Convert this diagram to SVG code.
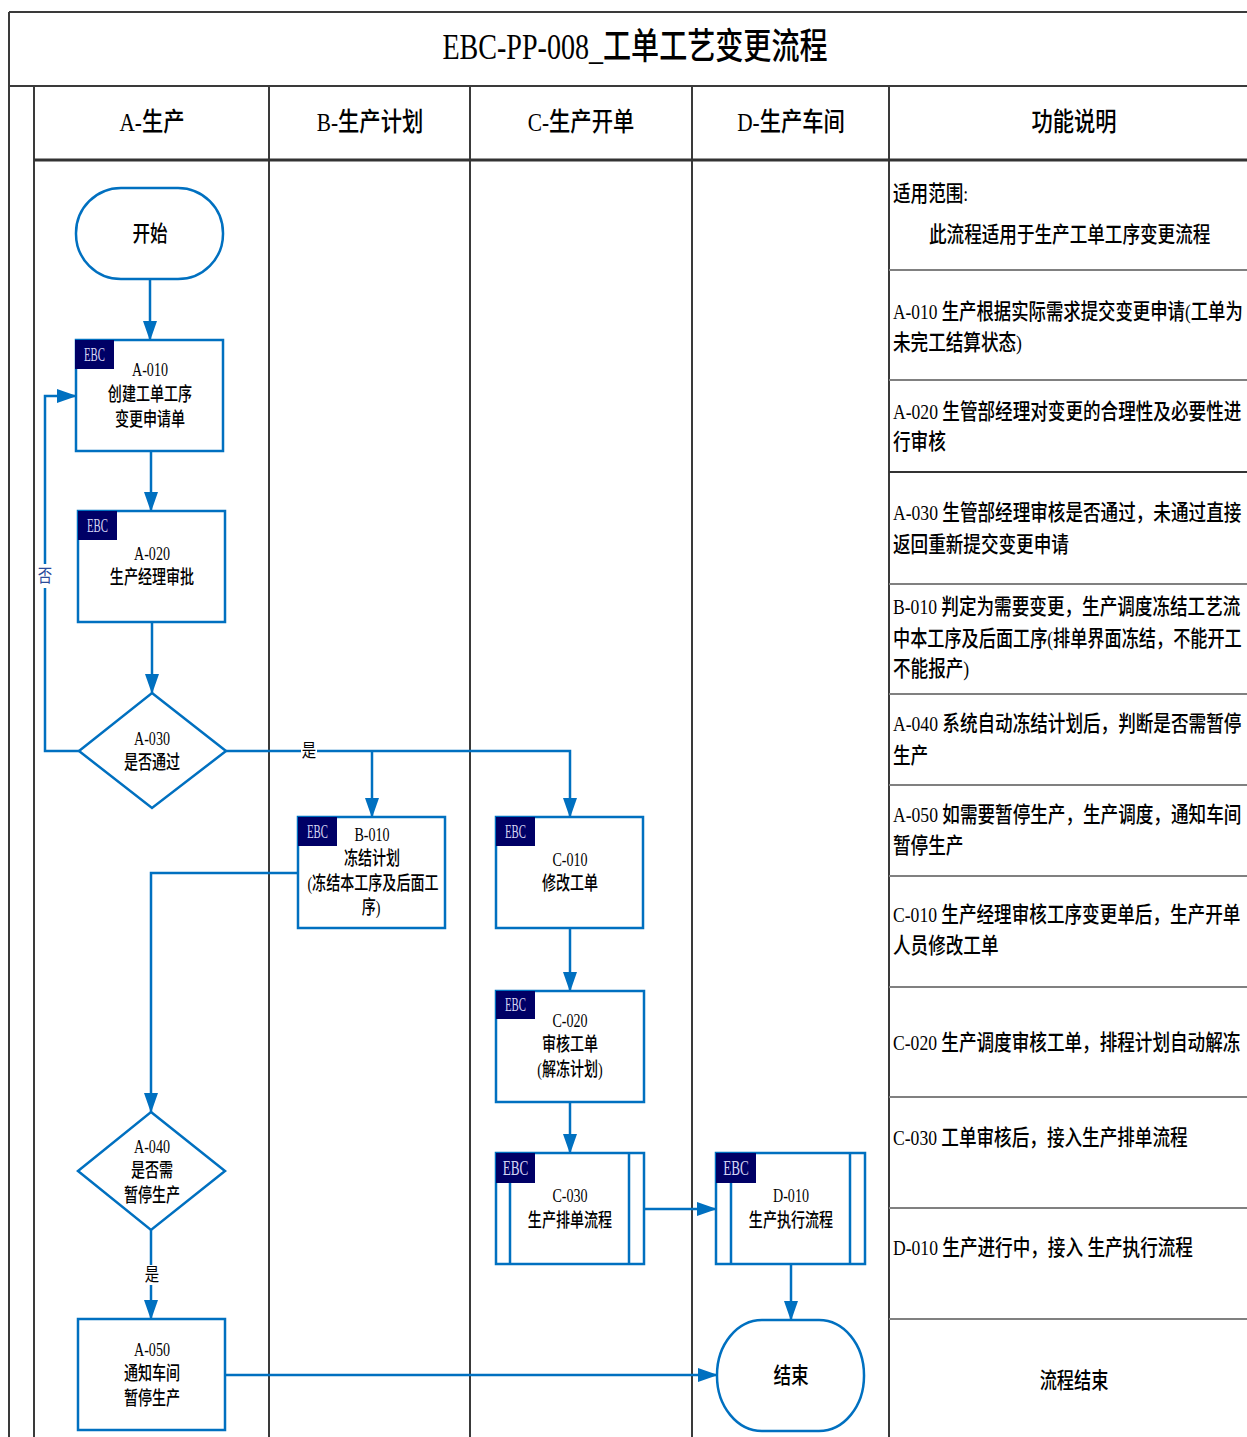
<svg xmlns="http://www.w3.org/2000/svg" width="1247" height="1437" viewBox="0 0 1247 1437">
<style>
.bg{fill:#fff}
.g{stroke:#3a3a3a;stroke-width:2;fill:none}
.r{stroke:#808080;stroke-width:2;fill:none}
.n{fill:#fff;stroke:#0070C0;stroke-width:2.5}
.tag{fill:#000066}
.tt{font-family:"Liberation Serif","Noto Sans CJK SC",serif;fill:#d4d4f4;text-anchor:middle;dominant-baseline:central}
.t{font-family:"Liberation Serif","Noto Sans CJK SC",sans-serif;fill:#000;text-anchor:middle;dominant-baseline:central;font-weight:500}
.d{font-family:"Liberation Serif","Noto Sans CJK SC",sans-serif;fill:#000;dominant-baseline:central;font-size:22px;font-weight:500}
.nt{font-size:19px}
.c{fill:none;stroke:#0070C0;stroke-width:2.5;marker-end:url(#arr)}
.cl{fill:none;stroke:#0070C0;stroke-width:2.5}
.lb{font-family:"Liberation Serif","Noto Sans CJK SC",sans-serif;font-size:18px;text-anchor:middle;dominant-baseline:central}
</style>
<defs>
<marker id="arr" markerUnits="userSpaceOnUse" markerWidth="20" markerHeight="14" refX="19" refY="7" orient="auto">
<path d="M0,0 L20,7 L0,14 Z" fill="#0070C0"/>
</marker>
</defs>
<rect class="bg" x="0" y="0" width="1247" height="1437"/>

<g id="grid">
<path class="g" d="M9,12 H1247 M9,12 V1437 M9,86 H1247 M34,86 V1437"/>
<path class="g" d="M269,86 V1437 M470,86 V1437 M692,86 V1437 M889,86 V1437"/>
<path d="M34,160 H1247" stroke="#333" stroke-width="3"/>
<path class="r" d="M889,270 H1247 M889,380 H1247 M889,584 H1247 M889,694 H1247 M889,785 H1247 M889,876 H1247 M889,987 H1247 M889,1097 H1247 M889,1208 H1247 M889,1319 H1247"/>
<path d="M889,472 H1247" stroke="#333" stroke-width="2"/>
</g>

<g id="title">
<text class="t" transform="translate(635,47) scale(0.78,1)" font-size="36">EBC-PP-008_工单工艺变更流程</text>
</g>

<g id="headers">
<text class="t" transform="translate(152,122) scale(0.82,1)" font-size="26">A-生产</text>
<text class="t" transform="translate(370,122) scale(0.82,1)" font-size="26">B-生产计划</text>
<text class="t" transform="translate(581,122) scale(0.82,1)" font-size="26">C-生产开单</text>
<text class="t" transform="translate(791,122) scale(0.82,1)" font-size="26">D-生产车间</text>
<text class="t" transform="translate(1074,122) scale(0.82,1)" font-size="26">功能说明</text>
</g>

<g id="connectors">
<path class="c" d="M150,279 V340"/>
<path class="c" d="M151,451 V511"/>
<path class="c" d="M152,622 V693"/>
<path class="c" d="M79,751 H45 V396 H76"/>
<path class="c" d="M226,751 H570 V817"/>
<path class="c" d="M372,751 V817"/>
<path class="c" d="M298,873 H151 V1112"/>
<path class="c" d="M570,928 V991"/>
<path class="c" d="M570,1102 V1153"/>
<path class="c" d="M644,1209 H716"/>
<path class="c" d="M791,1264 V1320"/>
<path class="c" d="M151,1230 V1319"/>
<path class="c" d="M225,1375 H717"/>
<rect x="37" y="564" width="16" height="24" fill="#fff"/>
<text class="lb" transform="translate(45,576) scale(0.8,1)" fill="#2a4a9a">否</text>
<rect x="301" y="741" width="16" height="20" fill="#fff"/>
<text class="lb" transform="translate(309,751) scale(0.8,1)" fill="#000">是</text>
<rect x="143" y="1265" width="16" height="20" fill="#fff"/>
<text class="lb" transform="translate(152,1275) scale(0.8,1)" fill="#000">是</text>
</g>

<g id="start">
<rect class="n" x="76" y="188" width="147" height="91" rx="45" ry="45"/>
<text class="t" transform="translate(150,233) scale(0.8,1)" font-size="22">开始</text>
</g>

<g id="A-010">
<rect class="n" x="76" y="340" width="147" height="111"/>
<rect class="tag" x="75" y="340" width="39" height="29"/>
<text class="tt" transform="translate(94.5,355) scale(0.6,1)" font-size="18">EBC</text>
<text class="t nt" transform="translate(150,370) scale(0.74,1)">A-010</text>
<text class="t nt" transform="translate(150,395) scale(0.74,1)">创建工单工序</text>
<text class="t nt" transform="translate(150,420) scale(0.74,1)">变更申请单</text>
</g>

<g id="A-020">
<rect class="n" x="78" y="511" width="147" height="111"/>
<rect class="tag" x="78" y="511" width="39" height="29"/>
<text class="tt" transform="translate(97.5,526) scale(0.6,1)" font-size="18">EBC</text>
<text class="t nt" transform="translate(152,554) scale(0.74,1)">A-020</text>
<text class="t nt" transform="translate(152,578) scale(0.74,1)">生产经理审批</text>
</g>

<g id="A-030">
<polygon class="n" points="152,693 226,751 152,808 79,751"/>
<text class="t nt" transform="translate(152,739) scale(0.74,1)">A-030</text>
<text class="t nt" transform="translate(152,763) scale(0.74,1)">是否通过</text>
</g>

<g id="B-010">
<rect class="n" x="298" y="817" width="147" height="111"/>
<rect class="tag" x="298" y="817" width="39" height="29"/>
<text class="tt" transform="translate(317.5,832) scale(0.6,1)" font-size="18">EBC</text>
<text class="t nt" transform="translate(372,835) scale(0.74,1)">B-010</text>
<text class="t nt" transform="translate(372,859) scale(0.74,1)">冻结计划</text>
<text class="t nt" transform="translate(373,884) scale(0.74,1)">(冻结本工序及后面工</text>
<text class="t nt" transform="translate(371,908) scale(0.74,1)">序)</text>
</g>

<g id="C-010">
<rect class="n" x="496" y="817" width="147" height="111"/>
<rect class="tag" x="496" y="817" width="39" height="29"/>
<text class="tt" transform="translate(515.5,832) scale(0.6,1)" font-size="18">EBC</text>
<text class="t nt" transform="translate(570,860) scale(0.74,1)">C-010</text>
<text class="t nt" transform="translate(570,884) scale(0.74,1)">修改工单</text>
</g>

<g id="C-020">
<rect class="n" x="496" y="991" width="148" height="111"/>
<rect class="tag" x="496" y="991" width="39" height="28"/>
<text class="tt" transform="translate(515.5,1005) scale(0.6,1)" font-size="18">EBC</text>
<text class="t nt" transform="translate(570,1021) scale(0.74,1)">C-020</text>
<text class="t nt" transform="translate(570,1045) scale(0.74,1)">审核工单</text>
<text class="t nt" transform="translate(570,1070) scale(0.74,1)">(解冻计划)</text>
</g>

<g id="C-030">
<rect class="n" x="496" y="1153" width="148" height="111"/>
<path class="cl" d="M510,1183 V1264 M629,1153 V1264"/>
<rect class="tag" x="496" y="1153" width="39" height="30"/>
<text class="tt" transform="translate(515.5,1168) scale(0.6,1)" font-size="22">EBC</text>
<text class="t nt" transform="translate(570,1196) scale(0.74,1)">C-030</text>
<text class="t nt" transform="translate(570,1221) scale(0.74,1)">生产排单流程</text>
</g>

<g id="D-010">
<rect class="n" x="716" y="1153" width="149" height="111"/>
<path class="cl" d="M731,1183 V1264 M850,1153 V1264"/>
<rect class="tag" x="716" y="1153" width="40" height="30"/>
<text class="tt" transform="translate(736,1168) scale(0.6,1)" font-size="22">EBC</text>
<text class="t nt" transform="translate(791,1196) scale(0.74,1)">D-010</text>
<text class="t nt" transform="translate(791,1221) scale(0.74,1)">生产执行流程</text>
</g>

<g id="A-040">
<polygon class="n" points="151,1112 225,1171 151,1230 78,1171"/>
<text class="t nt" transform="translate(152,1147) scale(0.74,1)">A-040</text>
<text class="t nt" transform="translate(152,1171) scale(0.74,1)">是否需</text>
<text class="t nt" transform="translate(152,1196) scale(0.74,1)">暂停生产</text>
</g>

<g id="A-050">
<rect class="n" x="78" y="1319" width="147" height="111"/>
<text class="t nt" transform="translate(152,1350) scale(0.74,1)">A-050</text>
<text class="t nt" transform="translate(152,1374) scale(0.74,1)">通知车间</text>
<text class="t nt" transform="translate(152,1399) scale(0.74,1)">暂停生产</text>
</g>

<g id="end">
<rect class="n" x="717" y="1320" width="147" height="111" rx="45" ry="55"/>
<text class="t" transform="translate(791,1375) scale(0.8,1)" font-size="22">结束</text>
</g>

<g id="descriptions">
<text class="d" transform="translate(893,193) scale(0.8,1)">适用范围:</text>
<text class="d" transform="translate(929,234) scale(0.8,1)">此流程适用于生产工单工序变更流程</text>
<text class="d" transform="translate(893,311) scale(0.79,1)">A-010 生产根据实际需求提交变更申请(工单为</text>
<text class="d" transform="translate(893,342) scale(0.8,1)">未完工结算状态)</text>
<text class="d" transform="translate(893,411) scale(0.8,1)">A-020 生管部经理对变更的合理性及必要性进</text>
<text class="d" transform="translate(893,441) scale(0.8,1)">行审核</text>
<text class="d" transform="translate(893,512) scale(0.8,1)">A-030 生管部经理审核是否通过，未通过直接</text>
<text class="d" transform="translate(893,544) scale(0.8,1)">返回重新提交变更申请</text>
<text class="d" transform="translate(893,606) scale(0.8,1)">B-010 判定为需要变更，生产调度冻结工艺流</text>
<text class="d" transform="translate(893,638) scale(0.78,1)">中本工序及后面工序(排单界面冻结，不能开工</text>
<text class="d" transform="translate(893,668) scale(0.8,1)">不能报产)</text>
<text class="d" transform="translate(893,723) scale(0.8,1)">A-040 系统自动冻结计划后，判断是否需暂停</text>
<text class="d" transform="translate(893,755) scale(0.8,1)">生产</text>
<text class="d" transform="translate(893,814) scale(0.8,1)">A-050 如需要暂停生产，生产调度，通知车间</text>
<text class="d" transform="translate(893,845) scale(0.8,1)">暂停生产</text>
<text class="d" transform="translate(893,914) scale(0.8,1)">C-010 生产经理审核工序变更单后，生产开单</text>
<text class="d" transform="translate(893,945) scale(0.8,1)">人员修改工单</text>
<text class="d" transform="translate(893,1042) scale(0.8,1)">C-020 生产调度审核工单，排程计划自动解冻</text>
<text class="d" transform="translate(893,1137) scale(0.8,1)">C-030 工单审核后，接入生产排单流程</text>
<text class="d" transform="translate(893,1247) scale(0.8,1)">D-010 生产进行中，接入 生产执行流程</text>
<text class="t" transform="translate(1074,1380) scale(0.78,1)" font-size="22">流程结束</text>
</g>
</svg>
